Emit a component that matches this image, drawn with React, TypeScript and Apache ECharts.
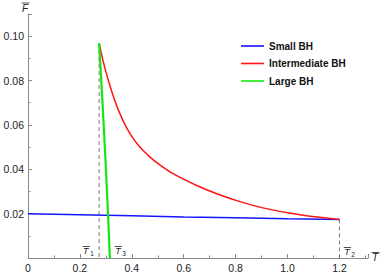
import React, { useEffect, useRef } from 'react';
import * as echarts from 'echarts';

// Phase-diagram curves: [T, F]
const smallBH: number[][] = [
  [0, 0.02], [0.2, 0.0195], [0.4, 0.019], [0.6, 0.0185], [0.8, 0.0181], [1.0, 0.0177], [1.2, 0.0174],
];
const intermediateBH: number[][] = [
  [0.274, 0.0969], [0.28, 0.0936], [0.29, 0.0885], [0.3, 0.084], [0.315, 0.078], [0.33, 0.0725],
  [0.35, 0.0662], [0.375, 0.0598], [0.4, 0.0548], [0.431, 0.05], [0.47, 0.0455], [0.5, 0.0427],
  [0.559, 0.038], [0.65, 0.0327], [0.738, 0.0285], [0.82, 0.0253], [0.905, 0.0226], [1.0, 0.0204],
  [1.072, 0.0191], [1.2, 0.0174],
];
const largeBH: number[][] = [
  [0.274, 0.0969], [0.2831, 0.0783], [0.2891, 0.0656], [0.2982, 0.045], [0.3087, 0.0188], [0.3154, 0],
];
const seriesNames = ['Small BH', 'Intermediate BH', 'Large BH'];
const seriesColors = ['#1414ff', '#ff1414', '#14e614'];
const T1 = 0.274;
const T2 = 1.2;
const T3 = 0.309;
const cuspF = 0.0969;
const endF = 0.0174;
const xMin = 0, xMax = 1.31, xStep = 0.2;
const yMin = 0, yMax = 0.11, yStep = 0.02;

const FONT = 'Liberation Sans, Arial, sans-serif';

export default function App() {
  const ref = useRef<HTMLDivElement>(null);
  useEffect(() => {
    if (!ref.current) return;
    const chart = echarts.init(ref.current, null, { renderer: 'svg' });
    const isMult = (v: number, s: number) => Math.abs(v / s - Math.round(v / s)) < 1e-6;
    chart.setOption({
      animation: false,
      grid: { left: 28, right: 14, top: 14, bottom: 13 },
      legend: {
        data: seriesNames,
        orient: 'vertical',
        left: 236,
        top: 35,
        icon: 'rect',
        itemWidth: 23,
        itemHeight: 1.6,
        itemGap: 5.5,
        textStyle: { fontFamily: FONT, fontSize: 10, fontWeight: 'bold', color: '#111', lineHeight: 12 },
      },
      xAxis: {
        type: 'value', min: xMin, max: xMax, interval: xStep,
        axisLine: { show: true, lineStyle: { color: '#8a8a8a', width: 1 } },
        axisTick: { show: true, inside: true, length: 4, lineStyle: { color: '#8a8a8a' } },
        minorTick: { show: true, splitNumber: 2, length: 2.5, lineStyle: { color: '#8a8a8a' } },
        splitLine: { show: false },
        axisLabel: {
          fontFamily: FONT, fontSize: 10.5, color: '#222', margin: 4,
          formatter: (v: number) => (isMult(v, xStep) && v <= 1.2 + 1e-9 ? (v === 0 ? '0' : v.toFixed(1)) : ''),
        },
      },
      yAxis: {
        type: 'value', min: yMin, max: yMax, interval: yStep,
        axisLine: { show: true, lineStyle: { color: '#8a8a8a', width: 1 } },
        axisTick: { show: true, inside: true, length: 4, lineStyle: { color: '#8a8a8a' } },
        minorTick: { show: true, splitNumber: 2, length: 2.5, lineStyle: { color: '#8a8a8a' } },
        splitLine: { show: false },
        axisLabel: {
          fontFamily: FONT, fontSize: 10.5, color: '#222', margin: 4,
          formatter: (v: number) => (v > 0 && isMult(v, yStep) && v <= 0.1 + 1e-9 ? v.toFixed(2) : ''),
        },
      },
      series: [
        {
          name: 'T1line', type: 'line', data: [[T1, cuspF], [T1, 0]], symbol: 'none', silent: true,
          lineStyle: { color: '#7a7a7a', width: 1, type: [4, 3] },
        },
        {
          name: 'T2line', type: 'line', data: [[T2, endF], [T2, 0]], symbol: 'none', silent: true,
          lineStyle: { color: '#7a7a7a', width: 1, type: [4, 3] },
        },
        {
          name: seriesNames[0], type: 'line', data: smallBH, symbol: 'none', color: seriesColors[0],
          lineStyle: { color: seriesColors[0], width: 1.5 },
        },
        {
          name: seriesNames[1], type: 'line', data: intermediateBH, symbol: 'none', smooth: 0.3, color: seriesColors[1],
          lineStyle: { color: seriesColors[1], width: 1.5 },
        },
        {
          name: seriesNames[2], type: 'line', data: largeBH, symbol: 'none', smooth: 0.2, color: seriesColors[2],
          lineStyle: { color: seriesColors[2], width: 2.2 },
        },
      ],
    });

    const px = (x: number, y: number) => chart.convertToPixel({ gridIndex: 0 }, [x, y]) as number[];
    const p1 = px(T1, 0);
    const p2 = px(T2, 0);
    const p3 = px(T3, 0);
    const pe = px(xMax, 0);
    const pt = px(0, yMax);
    const barStyle = { stroke: '#222', lineWidth: 0.8 };
    const sym = (x: number, yTop: number, main: string, sub: string | null, size: number) => {
      const els: any[] = [
        { type: 'text', x, y: yTop, style: { text: main, fontFamily: FONT, fontStyle: 'italic', fontSize: size, fill: '#222', align: 'left', verticalAlign: 'top' } },
        { type: 'line', shape: { x1: x - 0.5, y1: yTop, x2: x + size * 0.75, y2: yTop }, style: barStyle },
      ];
      if (sub) {
        els.push({ type: 'text', x: x + size * 0.78, y: yTop + size * 0.45, style: { text: sub, fontFamily: FONT, fontSize: size * 0.72, fill: '#222', align: 'left', verticalAlign: 'top' } });
      }
      return els;
    };
    chart.setOption({
      graphic: [
        ...sym(p1[0] - 16, p1[1] - 11.5, 'T', '1', 9),
        ...sym(p3[0] + 7, p3[1] - 11.5, 'T', '3', 9),
        ...sym(p2[0] + 4.8, p2[1] - 10.5, 'T', '2', 9),
        ...sym(pe[0] + 4, pe[1] - 5.5, 'T', null, 10),
        ...sym(pt[0] - 6, pt[1] - 11, 'F', null, 10),
      ],
    });
    return () => chart.dispose();
  }, []);
  return <div ref={ref} style={{ width: 382, height: 273, position: 'absolute', left: 0, top: 0 }} />;
}
